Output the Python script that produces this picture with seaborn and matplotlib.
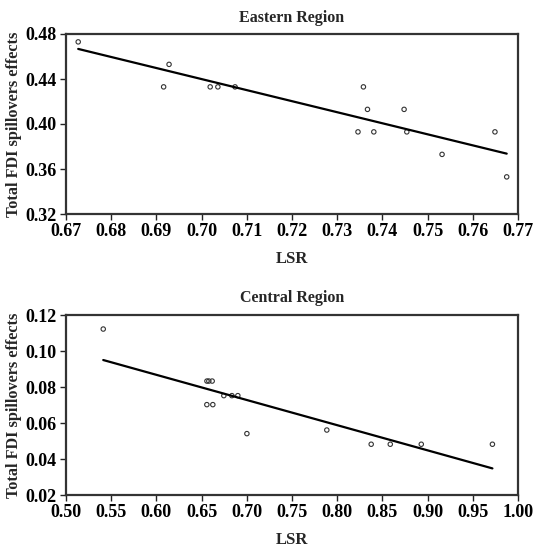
import matplotlib
matplotlib.use('Agg')
import matplotlib.pyplot as plt
import seaborn as sns
import numpy as np

# Eastern region (LSR vs total FDI spillovers effects)
east_lsr = [0.6727, 0.6928, 0.6916, 0.7019, 0.7036, 0.7074, 0.7358, 0.7367,
            0.7448, 0.7346, 0.7381, 0.7454, 0.7649, 0.7532, 0.7675]
east_fdi = [0.473, 0.453, 0.433, 0.433, 0.433, 0.433, 0.433, 0.413,
            0.413, 0.393, 0.393, 0.393, 0.393, 0.373, 0.353]

# Central region
central_lsr = [0.5412, 0.6559, 0.6580, 0.6617, 0.6746, 0.6835, 0.6901, 0.6558,
               0.6624, 0.7001, 0.7885, 0.8376, 0.8587, 0.8930, 0.9717]
central_fdi = [0.1122, 0.0833, 0.0833, 0.0833, 0.0752, 0.0752, 0.0752, 0.0702,
               0.0702, 0.0541, 0.0561, 0.0482, 0.0482, 0.0482, 0.0482]

east_xticks = np.arange(0.67, 0.7701, 0.01)
east_yticks = [0.32, 0.36, 0.40, 0.44, 0.48]
central_xticks = np.arange(0.50, 1.001, 0.05)
central_yticks = [0.02, 0.04, 0.06, 0.08, 0.10, 0.12]

sns.set_style('white')
plt.rcParams['font.family'] = ['Liberation Serif', 'DejaVu Serif']
plt.rcParams['font.weight'] = 'bold'

fig = plt.figure(figsize=(5.34, 5.5), dpi=100)
ax1 = fig.add_axes([66 / 534, 1 - 214 / 550, 452 / 534, 180 / 550])
ax2 = fig.add_axes([66 / 534, 1 - 495 / 550, 452 / 534, 180 / 550])

panels = [
    (ax1, east_lsr, east_fdi, 'Eastern Region', east_xticks, east_yticks, (0.67, 0.77), (0.32, 0.48)),
    (ax2, central_lsr, central_fdi, 'Central Region', central_xticks, central_yticks, (0.50, 1.00), (0.02, 0.12)),
]

for ax, x, y, title, xt, yt, xlim, ylim in panels:
    sns.regplot(x=x, y=y, ax=ax, ci=None, truncate=True, color='k',
                scatter_kws={'s': 10, 'facecolors': 'none', 'edgecolors': '#333333',
                             'linewidths': 0.8, 'alpha': 1},
                line_kws={'color': 'black', 'lw': 1.6})
    ax.set_xlim(*xlim)
    ax.set_ylim(*ylim)
    ax.set_xticks(xt)
    ax.set_yticks(yt)
    ax.set_xticklabels([f'{v:.2f}' for v in xt])
    ax.set_yticklabels([f'{v:.2f}' for v in yt])
    ax.tick_params(axis='both', labelsize=13, length=4, width=1, pad=2.5,
                   direction='out', bottom=True, left=True, colors='#222222',
                   labelcolor='black')
    for sp in ax.spines.values():
        sp.set_visible(True)
        sp.set_linewidth(1.6)
        sp.set_color('#333333')
    ax.set_title(title, fontsize=11.5, fontweight='bold', pad=9)
    ax.set_xlabel('LSR', fontsize=12, fontweight='bold', labelpad=8)
    ax.set_ylabel('Total FDI spillovers effects', fontsize=11.7, fontweight='bold', labelpad=2.5)

fig.savefig('out.png', dpi=100)
